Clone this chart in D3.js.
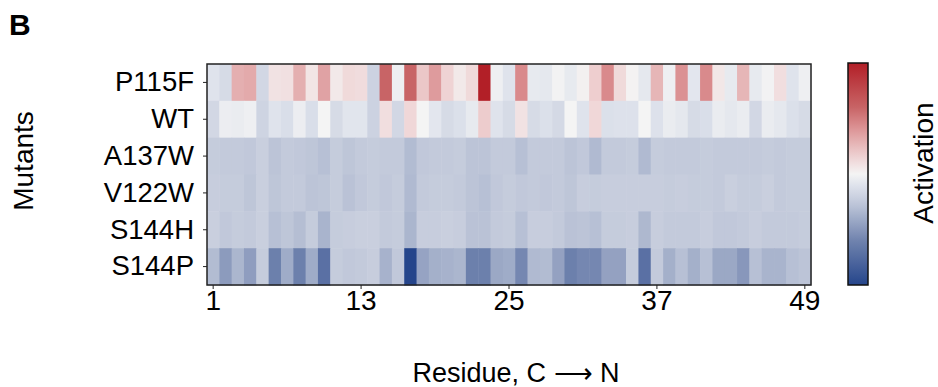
<!DOCTYPE html>
<html>
<head>
<meta charset="utf-8">
<script src="https://cdn.jsdelivr.net/npm/d3@7"></script>
<style>
  body { margin: 0; background: #fff; }
  text { font-family: "Liberation Sans", Arial, Helvetica, sans-serif; fill: #000; }
</style>
</head>
<body>
<div id="chart"></div>
<script>
// Heatmap data: rows are mutants, columns are residues (C -> N)
const mutants = ["P115F", "WT", "A137W", "V122W", "S144H", "S144P"];
const residues = [1,2,3,4,5,6,7,8,9,10,11,12,13,14,15,16,17,18,19,20,21,22,23,24,25,
                  26,27,28,29,30,31,32,33,34,35,36,37,38,39,40,41,42,43,44,45,46,47,48,49];
const xTickLabels = [1, 13, 25, 37, 49];

const p115f = [-0.10,-0.15,0.30,0.32,-0.17,0.08,0.09,0.30, 0.07,0.35,0.05,0.12,0.11,-0.20,0.60,-0.03,
               0.60,0.20,0.38,0.15,0.05,0.12,1.00,-0.03, -0.10,0.45,-0.06,-0.07,-0.01,-0.06,0.02,0.17,
               0.45,0.12,0.01,-0.07,0.27,-0.03,0.42,-0.08, 0.45,0.06,-0.06,0.27,-0.06,-0.01,0.10,-0.10,-0.03];
const wt    = [-0.17,-0.04,-0.05,-0.03,-0.19,-0.10,-0.13,-0.04, -0.13,0.00,-0.15,-0.09,-0.09,-0.20,0.10,-0.17,
               0.13,0.00,-0.08,-0.15,-0.12,-0.06,0.18,-0.10, -0.15,0.08,-0.15,-0.12,-0.16,0.00,-0.10,0.13,
               -0.12,-0.11,-0.11,0.00,-0.11,-0.05,-0.07,-0.15, -0.13,-0.05,-0.07,-0.05,-0.17,-0.05,-0.07,-0.12,-0.15];
const a137w = [-0.24,-0.25,-0.25,-0.26,-0.22,-0.28,-0.25,-0.26, -0.27,-0.30,-0.24,-0.27,-0.25,-0.24,-0.25,-0.25,
               -0.32,-0.26,-0.25,-0.25,-0.24,-0.28,-0.28,-0.25, -0.25,-0.30,-0.25,-0.25,-0.25,-0.28,-0.26,-0.33,
               -0.25,-0.25,-0.24,-0.33,-0.24,-0.25,-0.25,-0.25, -0.24,-0.25,-0.25,-0.25,-0.25,-0.24,-0.25,-0.24,-0.24];
const v122w = [-0.23,-0.24,-0.24,-0.27,-0.22,-0.27,-0.25,-0.25, -0.28,-0.27,-0.24,-0.29,-0.26,-0.24,-0.26,-0.24,
               -0.33,-0.25,-0.24,-0.24,-0.25,-0.28,-0.30,-0.26, -0.24,-0.26,-0.25,-0.26,-0.25,-0.27,-0.23,-0.24,
               -0.23,-0.23,-0.23,-0.23,-0.23,-0.24,-0.23,-0.24, -0.24,-0.25,-0.22,-0.24,-0.24,-0.22,-0.25,-0.24,-0.24];
const s144h = [-0.22,-0.26,-0.24,-0.25,-0.22,-0.30,-0.27,-0.31, -0.24,-0.36,-0.24,-0.23,-0.22,-0.22,-0.25,-0.24,
               -0.35,-0.23,-0.23,-0.22,-0.23,-0.29,-0.29,-0.25, -0.24,-0.30,-0.23,-0.23,-0.25,-0.29,-0.28,-0.30,
               -0.24,-0.24,-0.23,-0.34,-0.23,-0.25,-0.25,-0.25, -0.23,-0.26,-0.26,-0.25,-0.23,-0.25,-0.25,-0.25,-0.24];
const s144p = [-0.32,-0.48,-0.35,-0.47,-0.24,-0.62,-0.40,-0.62, -0.40,-0.72,-0.24,-0.26,-0.25,-0.23,-0.37,-0.26,
               -1.00,-0.44,-0.38,-0.37,-0.35,-0.62,-0.62,-0.42, -0.40,-0.58,-0.33,-0.32,-0.45,-0.62,-0.58,-0.58,
               -0.45,-0.45,-0.24,-0.72,-0.25,-0.38,-0.30,-0.38, -0.30,-0.42,-0.42,-0.50,-0.30,-0.36,-0.36,-0.30,-0.28];

const rows = [p115f, wt, a137w, v122w, s144h, s144p];

// Build a flat table of cells
const cells = [];
rows.forEach((vals, r) => vals.forEach((v, c) => cells.push({mutant: mutants[r], residue: residues[c], value: v})));

const width = 938, height = 387;
const plot = {left: 207, right: 811, top: 64, bottom: 285};

const svg = d3.select("#chart").append("svg")
    .attr("width", width)
    .attr("height", height);

// Scales
const x = d3.scaleBand().domain(residues).range([plot.left, plot.right]);
const y = d3.scaleBand().domain(mutants).range([plot.top, plot.bottom]);

const color = d3.scaleLinear()
    .domain([-1, -0.6, -0.25, -0.1, 0, 0.15, 0.45, 0.6, 1])
    .range(["#25458b", "#7083ae", "#c3cadb", "#dfe3ec", "#f4f4f4", "#efd3d4", "#d98a8c", "#c86466", "#b21f27"])
    .interpolate(d3.interpolateRgb)
    .clamp(true);

// Cells
svg.append("g")
    .selectAll("rect")
    .data(cells)
    .enter()
    .append("rect")
    .attr("x", d => x(d.residue))
    .attr("y", d => y(d.mutant))
    .attr("width", x.bandwidth() + 0.5)
    .attr("height", y.bandwidth() + 0.5)
    .attr("fill", d => color(d.value));

// Frame
svg.append("rect")
    .attr("x", plot.left)
    .attr("y", plot.top)
    .attr("width", plot.right - plot.left)
    .attr("height", plot.bottom - plot.top)
    .attr("fill", "none")
    .attr("stroke", "#222")
    .attr("stroke-width", 1.5);

// Y axis
const yAxis = svg.append("g")
    .attr("transform", `translate(${plot.left},0)`)
    .call(d3.axisLeft(y).tickSize(4).tickPadding(9));
yAxis.select(".domain").remove();
yAxis.selectAll(".tick line").attr("stroke", "#222");
yAxis.selectAll(".tick text")
    .style("font-size", "27.5px")
    .attr("font-family", null);

// X axis
const xAxis = svg.append("g")
    .attr("transform", `translate(0,${plot.bottom})`)
    .call(d3.axisBottom(x).tickValues(xTickLabels).tickSize(4).tickPadding(1));
xAxis.select(".domain").remove();
xAxis.selectAll(".tick line").attr("stroke", "#222");
xAxis.selectAll(".tick text")
    .style("font-size", "28px")
    .attr("font-family", null);

// Axis titles
svg.append("text")
    .attr("x", 516)
    .attr("y", 382)
    .attr("text-anchor", "middle")
    .style("font-size", "27px")
    .text("Residue, C \u27F6 N");

svg.append("text")
    .attr("transform", "translate(33,161) rotate(-90)")
    .attr("text-anchor", "middle")
    .style("font-size", "28px")
    .text("Mutants");

// Panel letter
svg.append("text")
    .attr("x", 9)
    .attr("y", 35)
    .style("font-size", "30px")
    .style("font-weight", "bold")
    .text("B");

// Colorbar
const cb = {x: 848, w: 20, top: 63, bottom: 285};
const defs = svg.append("defs");
const grad = defs.append("linearGradient")
    .attr("id", "cbar")
    .attr("x1", "0").attr("y1", "1")
    .attr("x2", "0").attr("y2", "0");
grad.selectAll("stop")
    .data(d3.range(0, 21))
    .enter()
    .append("stop")
    .attr("offset", d => d / 20)
    .attr("stop-color", d => color(-1 + d / 10));

svg.append("rect")
    .attr("x", cb.x)
    .attr("y", cb.top)
    .attr("width", cb.w)
    .attr("height", cb.bottom - cb.top)
    .attr("fill", "url(#cbar)")
    .attr("stroke", "#111")
    .attr("stroke-width", 1.5);

svg.append("text")
    .attr("transform", "translate(933,163) rotate(-90)")
    .attr("text-anchor", "middle")
    .style("font-size", "28px")
    .text("Activation");
</script>
</body>
</html>
